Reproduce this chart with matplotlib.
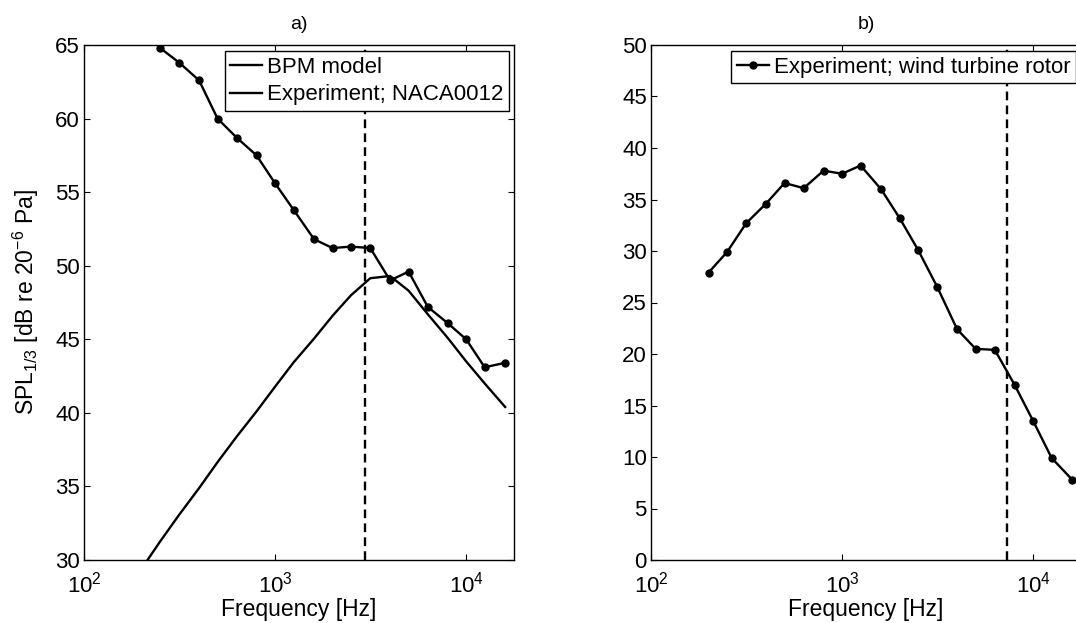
import matplotlib
matplotlib.use("Agg")
import matplotlib.pyplot as plt
from matplotlib.lines import Line2D

plt.rcParams['font.family'] = ['Liberation Sans', 'DejaVu Sans']
plt.rcParams['mathtext.fontset'] = 'custom'
plt.rcParams['mathtext.rm'] = 'Liberation Sans'
plt.rcParams['mathtext.it'] = 'Liberation Sans:italic'
plt.rcParams['mathtext.default'] = 'regular'
plt.rcParams['font.size'] = 16

# a) NACA0012: BPM model vs experiment (1/3 octave bands)
bpm_freq = [200, 250, 315, 400, 500, 630, 800, 1000, 1250, 1600, 2000, 2500,
            3150, 4000, 5000, 6300, 8000, 10000, 12500, 16000]
bpm_spl = [29.4, 31.25, 33.08, 34.88, 36.65, 38.39, 40.1, 41.78, 43.43, 45.05, 46.6, 48.0,
           49.15, 49.3, 48.3, 46.7, 45.1, 43.5, 42.0, 40.4]

naca_freq = [250, 315, 400, 500, 630, 800, 1000, 1250, 1600, 2000, 2500, 3150,
             4000, 5000, 6300, 8000, 10000, 12500, 16000]
naca_spl = [64.8, 63.8, 62.6, 60.0, 58.7, 57.5, 55.6, 53.8, 51.8, 51.2, 51.3, 51.2,
            49.0, 49.6, 47.2, 46.1, 45.0, 43.1, 43.4]
naca_cutoff = 2970

# b) wind turbine rotor
rotor_freq = [200, 250, 315, 400, 500, 630, 800, 1000, 1250, 1600, 2000, 2500,
              3150, 4000, 5000, 6300, 8000, 10000, 12500, 16000]
rotor_spl = [27.9, 29.9, 32.7, 34.6, 36.6, 36.1, 37.8, 37.5, 38.3, 36.0, 33.2, 30.1,
             26.5, 22.4, 20.5, 20.4, 17.0, 13.5, 9.9, 7.8]
rotor_cutoff = 7300

W, H = 1076, 623
fig = plt.figure(figsize=(W / 100, H / 100), dpi=100)
ax1 = fig.add_axes([84 / W, (H - 560) / H, 430 / W, 515 / H])
ax2 = fig.add_axes([651 / W, (H - 560) / H, 430 / W, 515 / H])

lw = 1.7
dash = (3.7, 2.2)
leg_kw = dict(loc='upper right', bbox_to_anchor=(0.988, 0.988), borderaxespad=0,
              fancybox=False, edgecolor='k', framealpha=1, borderpad=0.25,
              handlelength=1.45, handletextpad=0.2, labelspacing=0.3)

bpm_line, = ax1.plot(bpm_freq, bpm_spl, 'k-', lw=lw, label='BPM model')
ax1.plot(naca_freq, naca_spl, 'k-', lw=lw, marker='o', ms=5)
ax1.axvline(naca_cutoff, color='k', lw=lw, ls='--', dashes=dash)
ax1.set_ylim(30, 65)
ax1.set_yticks(range(30, 66, 5))
ax1.set_ylabel('SPL$_{1/3}$ [dB re 20$^{-6}$ Pa]', labelpad=10, fontsize=16.5)
ax1.set_title('a)', pad=11.5, fontsize=14)
leg1 = ax1.legend(handles=[bpm_line, Line2D([], [], color='k', lw=lw)],
                  labels=['BPM model', 'Experiment; NACA0012'], **leg_kw)
leg1.get_frame().set_linewidth(1.0)

ax2.plot(rotor_freq, rotor_spl, 'k-', lw=lw, marker='o', ms=5,
         label='Experiment; wind turbine rotor')
ax2.axvline(rotor_cutoff, color='k', lw=lw, ls='--', dashes=dash)
ax2.set_ylim(0, 50)
ax2.set_yticks(range(0, 51, 5))
ax2.set_title('b)', pad=11.5, fontsize=14)
leg2 = ax2.legend(numpoints=1, **leg_kw)
leg2.get_frame().set_linewidth(1.0)

for ax in (ax1, ax2):
    ax.set_xscale('log')
    ax.set_xlim(100, 1.78e4)
    ax.set_xticks([100, 1000, 10000])
    ax.minorticks_off()
    ax.set_xlabel('Frequency [Hz]', labelpad=1, fontsize=16.5)
    ax.tick_params(direction='in', top=True, right=True, length=4.3, width=0.8)
    ax.tick_params(axis='y', pad=3)
    ax.tick_params(axis='x', pad=8)
    for s in ax.spines.values():
        s.set_linewidth(1.0)
ax2.tick_params(right=False)

fig.savefig('out.png', dpi=100)
